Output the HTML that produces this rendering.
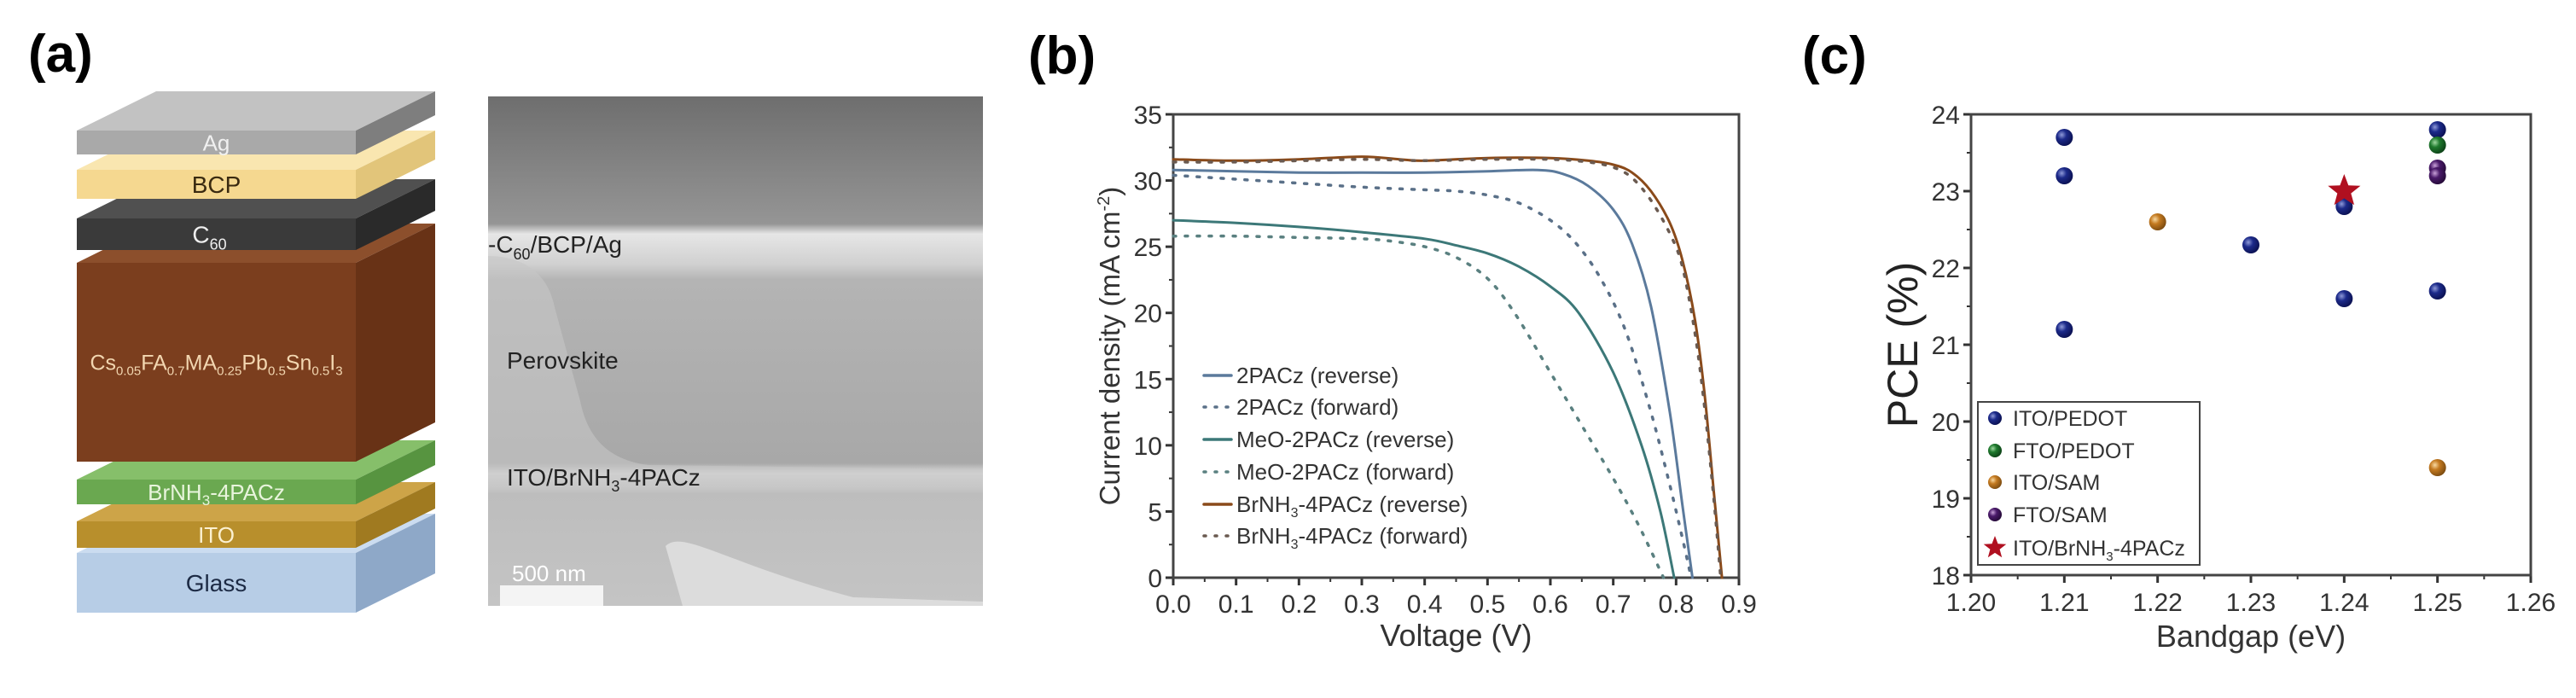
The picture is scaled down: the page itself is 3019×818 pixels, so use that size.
<!DOCTYPE html>
<html><head><meta charset="utf-8"><style>
html,body{margin:0;padding:0;background:#fff;}
svg{display:block;font-family:"Liberation Sans",sans-serif;}
</style></head><body>
<svg id="fig" width="3019" height="818" viewBox="0 0 3019 818" xmlns="http://www.w3.org/2000/svg">
<defs>
<linearGradient id="semg" x1="0" y1="0" x2="0" y2="1">
<stop offset="0" stop-color="#6e6e6e"/><stop offset="0.25" stop-color="#959595"/><stop offset="0.27" stop-color="#e6e6e6"/><stop offset="0.33" stop-color="#d0d0d0"/><stop offset="0.36" stop-color="#b4b4b4"/><stop offset="0.72" stop-color="#a8a8a8"/><stop offset="0.74" stop-color="#dcdcdc"/><stop offset="0.78" stop-color="#bdbdbd"/><stop offset="1" stop-color="#c4c4c4"/>
</linearGradient>
<radialGradient id="gNavy" cx="0.35" cy="0.35" r="0.7"><stop offset="0" stop-color="#8f9ad8"/><stop offset="0.4" stop-color="#1c2a8a"/><stop offset="1" stop-color="#0a1050"/></radialGradient>
<radialGradient id="gGreen" cx="0.35" cy="0.35" r="0.7"><stop offset="0" stop-color="#9fd8a0"/><stop offset="0.4" stop-color="#1f7a2e"/><stop offset="1" stop-color="#0c4016"/></radialGradient>
<radialGradient id="gOrange" cx="0.35" cy="0.35" r="0.7"><stop offset="0" stop-color="#f8d8a0"/><stop offset="0.4" stop-color="#c47a20"/><stop offset="1" stop-color="#7a4a10"/></radialGradient>
<radialGradient id="gPurple" cx="0.35" cy="0.35" r="0.7"><stop offset="0" stop-color="#c8a0d8"/><stop offset="0.4" stop-color="#4a1a6a"/><stop offset="1" stop-color="#240a36"/></radialGradient>
</defs>

<text x="33" y="84" font-size="62" font-weight="bold">(a)</text>
<g id="stack"></g>

<g>
<rect x="572" y="113" width="580" height="597" fill="url(#semg)"/>
<path d="M572 300 C600 300 640 310 650 360 L680 470 C690 520 720 540 760 545 L1152 550 L1152 570 L572 570 Z" fill="#c6c6c6" opacity="0.6"/>
<path d="M780 640 C800 620 850 660 1000 700 L1152 705 L1152 710 L800 710 Z" fill="#e2e2e2" opacity="0.8"/>
<rect x="586" y="686" width="121" height="24" fill="#f4f4f4"/>
<text x="572" y="296" font-size="28" fill="#222">-C<tspan font-size="18" dy="8">60</tspan><tspan dy="-8">/BCP/Ag</tspan></text>
<text x="594" y="432" font-size="28" fill="#222">Perovskite</text>
<text x="594" y="569" font-size="28" fill="#222">ITO/BrNH<tspan font-size="18" dy="7">3</tspan><tspan dy="-7">-4PACz</tspan></text>
<text x="600" y="681" font-size="26" fill="#fff">500 nm</text>
</g>

<text x="1205" y="86" font-size="62" font-weight="bold">(b)</text>
<g id="chartB"></g>

<text x="2112" y="86" font-size="62" font-weight="bold">(c)</text>
<g id="chartC"></g>
</svg>

<script>
// ---------- Panel b data ----------
const bXTicks = ["0.0","0.1","0.2","0.3","0.4","0.5","0.6","0.7","0.8","0.9"];
const bYTicks = ["0","5","10","15","20","25","30","35"];
const bNames = ["2PACz (reverse)","2PACz (forward)","MeO-2PACz (reverse)","MeO-2PACz (forward)","BrNH3-4PACz (reverse)","BrNH3-4PACz (forward)"];
const v2r = [0,0.1,0.2,0.3,0.4,0.5,0.58,0.62,0.66,0.7,0.73,0.76,0.79,0.81,0.826];
const j2r = [30.8,30.7,30.6,30.6,30.6,30.7,30.8,30.5,29.6,27.8,25.2,20.5,12.5,5.5,0];
const v2f = [0,0.1,0.2,0.3,0.4,0.45,0.5,0.55,0.6,0.64,0.68,0.72,0.76,0.79,0.81,0.824];
const j2f = [30.4,30.1,29.8,29.5,29.3,29.2,28.9,28.3,27.0,25.3,22.6,18.6,12.5,7.0,3.0,0];
const vMr = [0,0.1,0.2,0.3,0.4,0.45,0.5,0.55,0.6,0.645,0.7,0.745,0.775,0.797];
const jMr = [27.0,26.8,26.5,26.1,25.6,25.1,24.5,23.5,22.0,20.0,15.5,10.0,5.0,0];
const vMf = [0,0.1,0.2,0.3,0.35,0.4,0.45,0.5,0.543,0.6,0.65,0.7,0.74,0.78];
const jMf = [25.8,25.8,25.7,25.6,25.4,25.0,24.2,22.6,20.0,15.5,11.5,7.5,4.0,0];
const vBr = [0,0.1,0.2,0.3,0.36,0.4,0.5,0.6,0.66,0.7,0.73,0.76,0.79,0.81,0.83,0.845,0.86,0.873];
const jBr = [31.6,31.5,31.6,31.8,31.6,31.5,31.7,31.7,31.5,31.2,30.6,29.2,26.8,24.0,19.5,14.0,6.5,0];
const vBf = [0,0.1,0.2,0.3,0.4,0.5,0.6,0.66,0.7,0.73,0.76,0.79,0.81,0.83,0.845,0.86,0.871];
const jBf = [31.4,31.4,31.5,31.6,31.5,31.6,31.6,31.4,31.0,30.2,28.5,26.0,23.5,18.5,13.0,6.0,0];

// ---------- Panel c data ----------
const cXTicks = ["1.20","1.21","1.22","1.23","1.24","1.25","1.26"];
const cYTicks = ["18","19","20","21","22","23","24"];
const cGroups = ["ITO/PEDOT","FTO/PEDOT","ITO/SAM","FTO/SAM","ITO/BrNH3-4PACz"];
const itoPedotX = [1.21,1.21,1.21,1.23,1.24,1.24,1.25,1.25];
const itoPedotY = [23.7,23.2,21.2,22.3,22.8,21.6,23.8,21.7];
const ftoPedotX = [1.25];
const ftoPedotY = [23.6];
const itoSamX = [1.22,1.25];
const itoSamY = [22.6,19.4];
const ftoSamX = [1.25,1.25];
const ftoSamY = [23.3,23.2];
const starX = [1.24];
const starY = [23.0];

const NS = "http://www.w3.org/2000/svg";
function mk(parent, tag, attrs, txt){
  const e = document.createElementNS(NS, tag);
  for (const k in attrs) e.setAttribute(k, attrs[k]);
  if (txt !== undefined) e.textContent = txt;
  parent.appendChild(e);
  return e;
}
function smoothPath(P){
  let d = `M${P[0][0].toFixed(1)},${P[0][1].toFixed(1)}`;
  for (let i=0;i<P.length-1;i++){
    const p0=P[Math.max(0,i-1)], p1=P[i], p2=P[i+1], p3=P[Math.min(P.length-1,i+2)];
    const c1=[p1[0]+(p2[0]-p0[0])/6, p1[1]+(p2[1]-p0[1])/6];
    const c2=[p2[0]-(p3[0]-p1[0])/6, p2[1]-(p3[1]-p1[1])/6];
    d += ` C${c1[0].toFixed(1)},${c1[1].toFixed(1)} ${c2[0].toFixed(1)},${c2[1].toFixed(1)} ${p2[0].toFixed(1)},${p2[1].toFixed(1)}`;
  }
  return d;
}

// ---------- Device stack ----------
(function(){
  const g = document.getElementById('stack');
  const L = 90, R = 417, dx = 93, dy = -46;
  const layers = [
    {n:"Ag", t:153, b:181, f:"#a9a9a9", top:"#c2c2c2", s:"#7e7e7e", tc:"#f0f0f0", fs:26},
    {n:"BCP", t:199, b:233, f:"#f5d890", top:"#f9e6b0", s:"#e2c57a", tc:"#3a2a10", fs:28},
    {n:"C60", t:256, b:293, f:"#3a3a3a", top:"#505050", s:"#2a2a2a", tc:"#eeeeee", fs:28},
    {n:"pvk", t:308, b:541, f:"#7b3e1e", top:"#8c4f2c", s:"#683216", tc:"#f2d6b0", fs:25},
    {n:"BrNH3-4PACz", t:562, b:591, f:"#6aa850", top:"#86bf6a", s:"#579440", tc:"#e8f4dc", fs:26},
    {n:"ITO", t:611, b:642, f:"#b88f2c", top:"#cda448", s:"#a07a20", tc:"#fbf0d0", fs:26},
    {n:"Glass", t:648, b:718, f:"#b7cde6", top:"#cbdcf0", s:"#8ea8c8", tc:"#1c2a44", fs:28}
  ];
  layers.slice().reverse().forEach(l=>{
    const grp = mk(g,'g',{});
    
    
    mk(grp,'polygon',{points:`${L},${l.t} ${L+dx},${l.t+dy} ${R+dx},${l.t+dy} ${R},${l.t}`, fill:l.top});
    mk(grp,'polygon',{points:`${R},${l.t} ${R+dx},${l.t+dy} ${R+dx},${l.b+dy} ${R},${l.b}`, fill:l.s});
    mk(grp,'rect',{x:L,y:l.t,width:R-L,height:l.b-l.t, fill:l.f});
    const cy = (l.t+l.b)/2 + l.fs*0.36;
    let t;
    if (l.n==="pvk"){
      t = mk(grp,'text',{x:(L+R)/2, y:cy, 'text-anchor':'middle','font-size':l.fs, fill:l.tc});
      const parts=[["Cs",""],["0.05","s"],["FA",""],["0.7","s"],["MA",""],["0.25","s"],["Pb",""],["0.5","s"],["Sn",""],["0.5","s"],["I",""],["3","s"]];
      let sub=false;
      parts.forEach(p=>{
        const ts = mk(t,'tspan',{},p[0]);
        if (p[1]==="s"){ ts.setAttribute('font-size','15'); ts.setAttribute('dy', sub?0:6); sub=true; }
        else { ts.setAttribute('dy', sub?-6:0); sub=false; }
      });
    } else if (l.n==="C60"){
      t = mk(grp,'text',{x:(L+R)/2-8, y:cy, 'text-anchor':'middle','font-size':l.fs, fill:l.tc},"C");
      mk(t,'tspan',{'font-size':18, dy:8},"60");
    } else if (l.n==="BrNH3-4PACz"){
      t = mk(grp,'text',{x:(L+R)/2, y:cy, 'text-anchor':'middle','font-size':l.fs, fill:l.tc},"BrNH");
      mk(t,'tspan',{'font-size':17, dy:6},"3");
      mk(t,'tspan',{dy:-6},"-4PACz");
    } else {
      t = mk(grp,'text',{x:(L+R)/2, y:cy, 'text-anchor':'middle','font-size':l.fs, fill:l.tc}, l.n);
    }
    
    
  });
})();

// ---------- Panel b chart ----------
(function(){
  const g = document.getElementById('chartB');
  const X0=1375, X1=2038, Y0=677, Y1=134;
  const xs = v => X0 + (v-0)/(0.9-0)*(X1-X0);
  const ys = j => Y0 - (j-0)/(35-0)*(Y0-Y1);
  bXTicks.forEach((lab,i)=>{
    const v = parseFloat(lab), x = xs(v);
    const tk = mk(g,'line',{x1:x,y1:Y0,x2:x,y2:Y0+9,stroke:'#333','stroke-width':3});
    
    
    if (i<bXTicks.length-1) mk(g,'line',{x1:xs(v+0.05),y1:Y0,x2:xs(v+0.05),y2:Y0+5,stroke:'#333','stroke-width':2});
    const t = mk(g,'text',{x:x,y:Y0+41,'text-anchor':'middle','font-size':30,fill:'#333'},lab);
    
    
  });
  bYTicks.forEach((lab,i)=>{
    const v = parseFloat(lab), y = ys(v);
    mk(g,'line',{x1:X0,y1:y,x2:X0-9,y2:y,stroke:'#333','stroke-width':3});
    if (i<bYTicks.length-1) mk(g,'line',{x1:X0,y1:ys(v+2.5),x2:X0-5,y2:ys(v+2.5),stroke:'#333','stroke-width':2});
    const t = mk(g,'text',{x:X0-13,y:y+11,'text-anchor':'end','font-size':30,fill:'#333'},lab);
    
    
  });
  const frame = mk(g,'rect',{x:X0,y:Y1,width:X1-X0,height:Y0-Y1,fill:'none',stroke:'#444','stroke-width':3});
  
  
  const xt = mk(g,'text',{x:(X0+X1)/2,y:757,'text-anchor':'middle','font-size':36,fill:'#333'},"Voltage (V)");
  
  
  const yt = mk(g,'text',{x:0,y:0,'text-anchor':'middle','font-size':33,fill:'#333',transform:`translate(1312,${(Y0+Y1)/2}) rotate(-90)`},"Current density (mA cm");
  mk(yt,'tspan',{'font-size':20,dy:-12},"-2");
  mk(yt,'tspan',{dy:12},")");
  
  

  const series = [
    {v:v2r,j:j2r,c:'#5b7a9c',dash:null},
    {v:v2f,j:j2f,c:'#5a7088',dash:'3 11'},
    {v:vMr,j:jMr,c:'#3c7878',dash:null},
    {v:vMf,j:jMf,c:'#5a8080',dash:'3 11'},
    {v:vBr,j:jBr,c:'#8a4a1a',dash:null},
    {v:vBf,j:jBf,c:'#6a5a50',dash:'3 11'}
  ];
  series.forEach((s,i)=>{
    const P = s.v.map((v,k)=>[xs(v), ys(s.j[k])]);
    const p = mk(g,'path',{d:smoothPath(P),fill:'none',stroke:s.c,'stroke-width':s.dash?3.5:3,'stroke-linecap':'round','stroke-linejoin':'round'});
    if (s.dash) p.setAttribute('stroke-dasharray',s.dash);
    
    
  });
  const ly = [440,477,515,553,591,628];
  bNames.forEach((n,i)=>{
    const s = series[i];
    const ln = mk(g,'line',{x1:1411,y1:ly[i],x2:1443,y2:ly[i],stroke:s.c,'stroke-width':3.5,'stroke-linecap':'round'});
    if (s.dash) ln.setAttribute('stroke-dasharray','2 11');
    
    
    const m = n.match(/^(.*?NH)3(.*)$/);
    let t;
    if (m){
      t = mk(g,'text',{x:1449,y:ly[i]+9,'font-size':26,fill:'#333'},m[1]);
      mk(t,'tspan',{'font-size':16,dy:6},"3");
      mk(t,'tspan',{dy:-6},m[2]);
    } else t = mk(g,'text',{x:1449,y:ly[i]+9,'font-size':26,fill:'#333'},n);
    
    
  });
})();

// ---------- Panel c chart ----------
(function(){
  const g = document.getElementById('chartC');
  const X0=2310, X1=2966, Y0=674, Y1=134;
  const xs = v => X0 + (v-1.20)/(1.26-1.20)*(X1-X0);
  const ys = v => Y0 - (v-18)/(24-18)*(Y0-Y1);
  cXTicks.forEach((lab,i)=>{
    const v=parseFloat(lab), x=xs(v);
    mk(g,'line',{x1:x,y1:Y0,x2:x,y2:Y0+9,stroke:'#333','stroke-width':3});
    if (i<cXTicks.length-1) mk(g,'line',{x1:xs(v+0.005),y1:Y0,x2:xs(v+0.005),y2:Y0+5,stroke:'#333','stroke-width':2});
    const t = mk(g,'text',{x:x,y:Y0+42,'text-anchor':'middle','font-size':30,fill:'#333'},lab);
    
    
  });
  cYTicks.forEach((lab,i)=>{
    const v=parseFloat(lab), y=ys(v);
    mk(g,'line',{x1:X0,y1:y,x2:X0-9,y2:y,stroke:'#333','stroke-width':3});
    if (i<cYTicks.length-1) mk(g,'line',{x1:X0,y1:ys(v+0.5),x2:X0-5,y2:ys(v+0.5),stroke:'#333','stroke-width':2});
    const t = mk(g,'text',{x:X0-13,y:y+11,'text-anchor':'end','font-size':30,fill:'#333'},lab);
    
    
  });
  const frame = mk(g,'rect',{x:X0,y:Y1,width:X1-X0,height:Y0-Y1,fill:'none',stroke:'#444','stroke-width':3});
  
  
  const xt = mk(g,'text',{x:(X0+X1)/2,y:758,'text-anchor':'middle','font-size':36,fill:'#333'},"Bandgap (eV)");
  
  
  const yt = mk(g,'text',{x:0,y:0,'text-anchor':'middle','font-size':50,fill:'#222',transform:`translate(2247,${(Y0+Y1)/2}) rotate(-90)`},"PCE (%)");
  
  

  function dots(X,Y,fill,name){
    X.forEach((x,i)=>{
      const c = mk(g,'circle',{cx:xs(x),cy:ys(Y[i]),r:10,fill:fill});
      
      
    });
  }
  function star(cx,cy,r,fill){
    let p=[];
    for(let k=0;k<10;k++){const a=-Math.PI/2+k*Math.PI/5;const rr=k%2?r*0.42:r;p.push((cx+rr*Math.cos(a)).toFixed(1)+','+(cy+rr*Math.sin(a)).toFixed(1));}
    return mk(g,'polygon',{points:p.join(' '),fill:fill});
  }
  dots(itoPedotX,itoPedotY,'url(#gNavy)','point-ito-pedot');
  dots(ftoPedotX,ftoPedotY,'url(#gGreen)','point-fto-pedot');
  dots(itoSamX,itoSamY,'url(#gOrange)','point-ito-sam');
  dots(ftoSamX,ftoSamY,'url(#gPurple)','point-fto-sam');
  starX.forEach((x,i)=>{
    const s = star(xs(x),ys(starY[i]),20,'#b01020');
    
    
  });
  const box = mk(g,'rect',{x:2318,y:471,width:260,height:191,fill:'#fff',stroke:'#444','stroke-width':2});
  
  
  const fills = ['url(#gNavy)','url(#gGreen)','url(#gOrange)','url(#gPurple)'];
  const ly = [490,528,565,603,642];
  cGroups.forEach((n,i)=>{
    if (i<4){
      const c = mk(g,'circle',{cx:2338,cy:ly[i],r:8,fill:fills[i]});
      
      
    } else {
      const s = star(2338,ly[i],14,'#b01020');
      
      
    }
    let t;
    const m = n.match(/^(.*?NH)3(.*)$/);
    if (m){
      t = mk(g,'text',{x:2359,y:ly[i]+9,'font-size':25,fill:'#333'},m[1]);
      mk(t,'tspan',{'font-size':15,dy:6},"3");
      mk(t,'tspan',{dy:-6},m[2]);
    } else t = mk(g,'text',{x:2359,y:ly[i]+9,'font-size':25,fill:'#333'},n);
    
    
  });
})();
</script>
</body></html>
